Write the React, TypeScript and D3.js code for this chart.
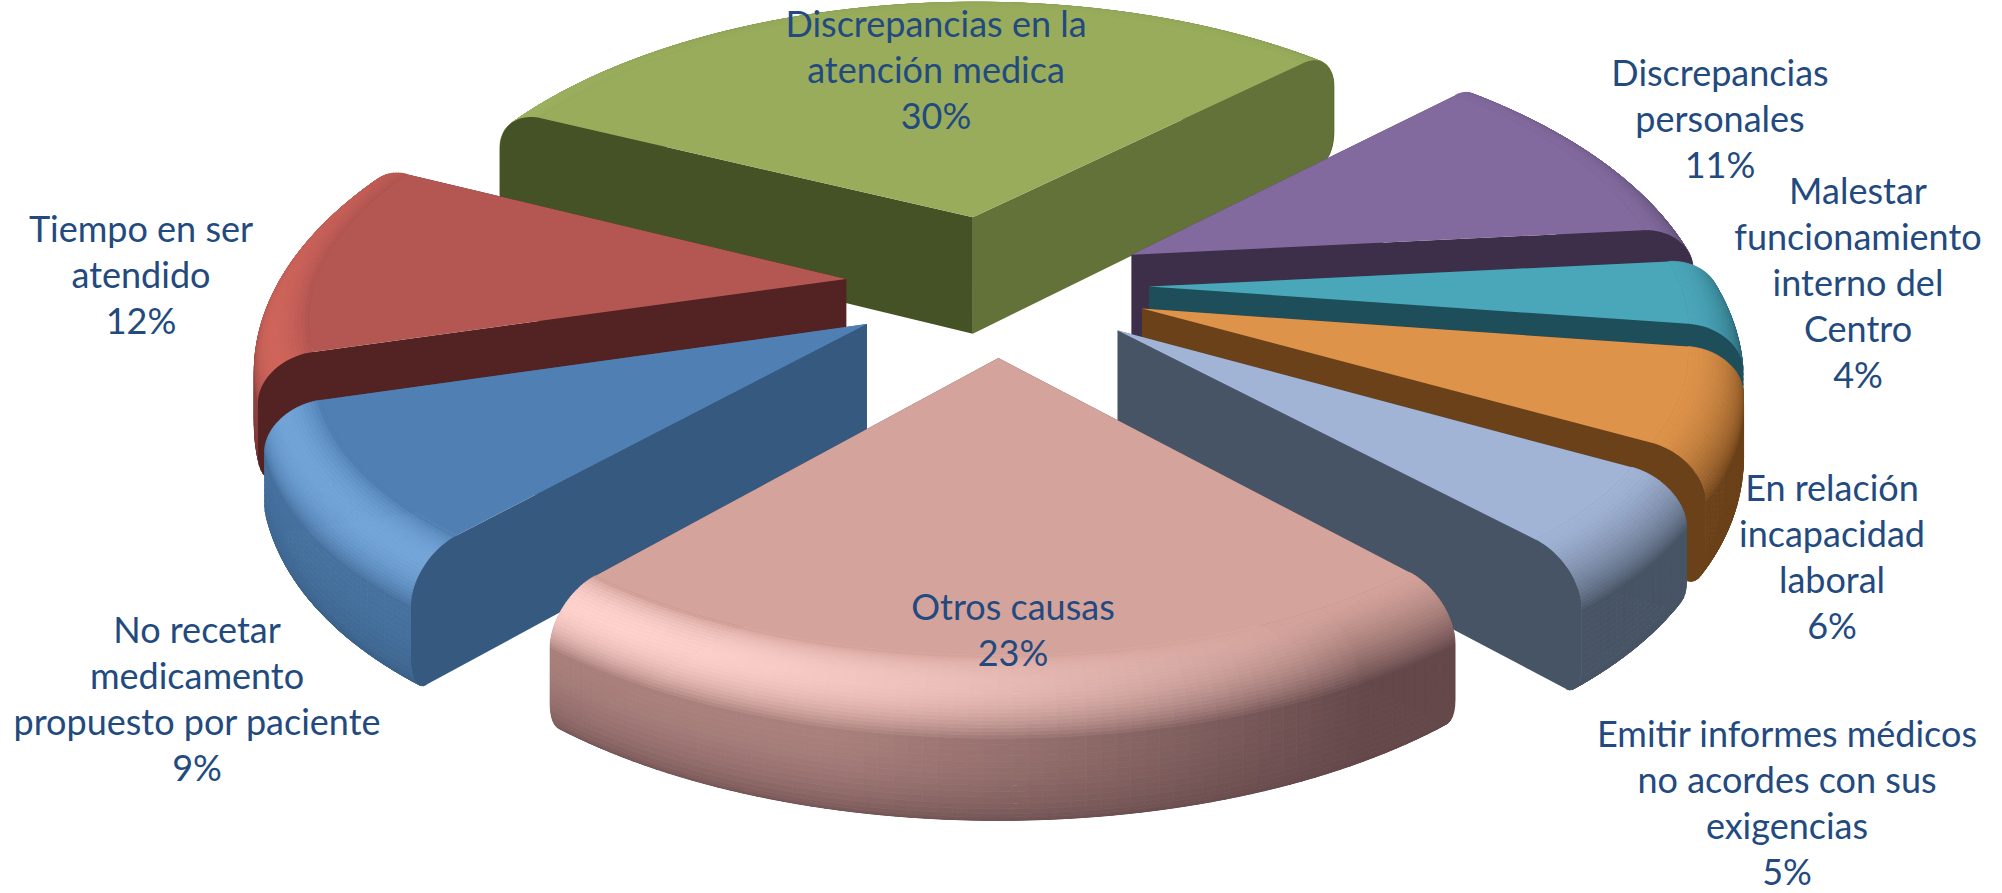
import React from "react";
import * as d3 from "d3";

// ---- data
const categories = [
  ["Discrepancias en la", "atención medica"],
  ["Discrepancias", "personales"],
  ["Malestar", "funcionamiento", "interno del", "Centro"],
  ["En relación", "incapacidad", "laboral"],
  ["Emitir informes médicos", "no acordes con sus", "exigencias"],
  ["Otros causas"],
  ["No recetar", "medicamento", "propuesto por paciente"],
  ["Tiempo en ser", "atendido"],
];
const values = [30, 11, 4, 6, 5, 23, 9, 12];

// ---- styles & layout
const topColors = ["#98AC5C", "#826A9E", "#4AA6B9", "#DE934A", "#A2B4D6", "#D4A39B", "#5080B3", "#B45652"];
const wallColors = ["#445226", "#3D2F4A", "#1F4E5B", "#6B4119", "#475465", "#64484A", "#35597F", "#532222"];
const endWallColors = ["#627238", "#3D2F4A", "#1F4E5B", "#6B4119", "#475465", "#64484A", "#35597F", "#532222"];
const lightColors = ["#A8BC6A", "#9A80B8", "#5CBBCF", "#EEA050", "#B8C8E8", "#FFD2CE", "#72A4D8", "#CF655B"];
const labelAnchors = [
  [936, 37], [1720, 86], [1858, 204], [1832, 501], [1787, 747], [1013, 620], [197, 643], [141, 242],
];
const lineGap = 46;
const TEXT = "#234A7F";

const cx = 997, cy = 285, A = 584, B = 272, K = 0.12, KX = 0.145, H = 120, EXPL = 0.26;
const R_IN = 0.91, BEVEL = 42, FOOT = 28, FOOT_IN = 0.03;

type P = [number, number];
const project = (x: number, y: number, h: number): P => {
  return [cx + (A * x) / (1 + KX * y), cy - (B * y + h - H) / (1 + K * y)];
};

type Prof = { r: number; h: number; kind: "bevel" | "wall" | "foot"; t: number };
const profile: Prof[] = [];
d3.range(0, 25).forEach((i) => {
  const t = i / 24, u = (t * Math.PI) / 2;
  profile.push({ r: R_IN + (1 - R_IN) * Math.sin(u), h: H - BEVEL * (1 - Math.cos(u)), kind: "bevel", t });
});
d3.range(1, 10).forEach((i) => {
  const t = i / 10;
  profile.push({ r: 1, h: H - BEVEL + (FOOT - (H - BEVEL)) * t, kind: "wall", t });
});
d3.range(0, 9).forEach((i) => {
  const t = i / 8, u = (t * Math.PI) / 2;
  profile.push({ r: 1 - FOOT_IN * (1 - Math.cos(u)), h: FOOT * (1 - Math.sin(u)), kind: "foot", t });
});

const pieGen = d3.pie<number>().sort(null).startAngle((-63.5 * Math.PI) / 180).endAngle((296.5 * Math.PI) / 180);
const arcs = pieGen(values);
const line = d3.line<P>();
const clamp = d3.scaleLinear().domain([0, 1]).range([0, 1]).clamp(true);

function bandColor(i: number, th: number, p: Prof) {
  const lam = Math.sin(th) * -0.85 + Math.cos(th) * -0.53;
  const top = topColors[i], dark = wallColors[i], light = lightColors[i];
  const mid = d3.interpolateRgb(top, dark)(0.38);
  const wallC = d3.interpolateRgb(dark, mid)(clamp(lam * 1.4));
  if (p.kind === "bevel") {
    const base = d3.interpolateRgb(top, wallC)(Math.pow(p.t, 1.6));
    return d3.interpolateRgb(base, light)(Math.sin(Math.PI * Math.pow(p.t, 0.8)) * clamp(lam * 1.1));
  }
  if (p.kind === "wall") return d3.interpolateRgb(wallC, dark)(p.t * p.t * 0.35);
  return d3.interpolateRgb(wallC, dark)(0.35 + 0.65 * p.t);
}

function Slice({ i }: { i: number }) {
  const a = arcs[i];
  const mid = (a.startAngle + a.endAngle) / 2;
  const ox = Math.sin(mid) * EXPL, oy = Math.cos(mid) * EXPL;
  const pt = (th: number, r: number, h: number) => project(ox + Math.sin(th) * r, oy + Math.cos(th) * r, h);

  const wall = (th: number) => {
    const pts: P[] = [pt(th, 0, H), ...profile.map((p) => pt(th, p.r, p.h)), pt(th, 0, 0)];
    return line(pts) + "Z";
  };
  const camDx = -ox, camDy = -1 / K - oy;
  const startVisible = -Math.cos(a.startAngle) * camDx + Math.sin(a.startAngle) * camDy > 0;
  const endVisible = Math.cos(a.endAngle) * camDx - Math.sin(a.endAngle) * camDy > 0;

  const nTh = Math.max(6, Math.round(((a.endAngle - a.startAngle) * 180) / Math.PI / 1.2));
  const ths = d3.range(nTh + 1).map((j) => a.startAngle + ((a.endAngle - a.startAngle) * j) / nTh);
  const quads: React.ReactNode[] = [];
  for (let k = profile.length - 2; k >= 0; k--) {
    for (let j = 0; j < nTh; j++) {
      const p0 = profile[k], p1 = profile[k + 1];
      const c = bandColor(i, (ths[j] + ths[j + 1]) / 2, p0);
      quads.push(
        <path
          key={k + "-" + j}
          d={line([pt(ths[j], p0.r, p0.h), pt(ths[j + 1], p0.r, p0.h), pt(ths[j + 1], p1.r, p1.h), pt(ths[j], p1.r, p1.h)]) + "Z"}
          fill={c}
          stroke={c}
          strokeWidth={0.8}
        />
      );
    }
  }
  const topPts: P[] = [pt(0, 0, H), ...ths.map((t) => pt(t, R_IN, H))];
  const sw = <path d={wall(a.startAngle)} fill={wallColors[i]} />;
  const ew = <path d={wall(a.endAngle)} fill={endWallColors[i]} />;
  return (
    <g>
      {!startVisible && sw}
      {!endVisible && ew}
      {quads}
      {startVisible && sw}
      {endVisible && ew}
      <path d={line(topPts) + "Z"} fill={topColors[i]} />
    </g>
  );
}

export default function App() {
  const order = d3.range(values.length).sort(
    (p, q) =>
      Math.cos((arcs[q].startAngle + arcs[q].endAngle) / 2) - Math.cos((arcs[p].startAngle + arcs[p].endAngle) / 2)
  );
  return (
    <svg width={2002} height={893} style={{ position: "absolute", left: 0, top: 0, background: "#fff" }}>
      {order.map((i) => (
        <Slice key={i} i={i} />
      ))}
      {categories.map((lines, i) => (
        <text key={i} textAnchor="middle" fontFamily="Lato" fontSize={36} fill={TEXT}>
          {[...lines, values[i] + "%"].map((l, j) => (
            <tspan key={j} x={labelAnchors[i][0]} y={labelAnchors[i][1] + j * lineGap}>
              {l}
            </tspan>
          ))}
        </text>
      ))}
    </svg>
  );
}
